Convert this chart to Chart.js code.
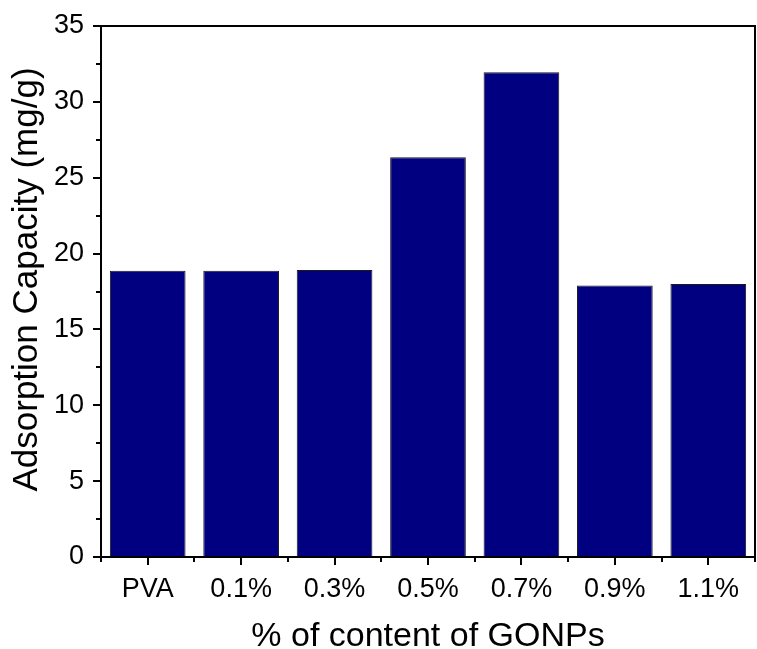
<!DOCTYPE html>
<html>
<head>
<meta charset="utf-8">
<script src="https://cdn.jsdelivr.net/npm/chart.js@4"></script>
<style>
  html, body { margin: 0; padding: 0; background: #fff; }
  #wrap { width: 757px; height: 649px; }
</style>
</head>
<body>
<div id="wrap"><canvas id="adsChart"></canvas></div>
<script>
// data
const categories = ['PVA', '0.1%', '0.3%', '0.5%', '0.7%', '0.9%', '1.1%'];
const capacity   = [18.87, 18.87, 18.92, 26.35, 31.95, 17.89, 18.0];
const yMin = 0, yMax = 35, yStep = 5;
const yMinorTicks = [2.5, 7.5, 12.5, 17.5, 22.5, 27.5, 32.5];
const yTitle = 'Adsorption Capacity (mg/g)';
const xTitle = '% of content of GONPs';

const FONT = '"Liberation Sans", Arial, sans-serif';

// top/right frame, minor ticks, and the y title (sits a bit above centre in the original)
const frameAndMinors = {
    id: 'frameAndMinors',
    afterDraw(chart) {
        const { ctx, chartArea: a, scales: { x, y } } = chart;
        ctx.save();
        ctx.strokeStyle = '#000';
        ctx.lineWidth = 2;
        ctx.beginPath();
        ctx.moveTo(a.left, a.top);
        ctx.lineTo(a.right, a.top);
        ctx.lineTo(a.right, a.bottom);
        ctx.stroke();

        ctx.beginPath();
        yMinorTicks.forEach(v => {
            const py = Math.round(y.getPixelForValue(v));
            ctx.moveTo(a.left, py);
            ctx.lineTo(a.left - 5, py);
        });
        // x minors sit on category boundaries
        const xs = [x.left];
        for (let i = 0; i < categories.length - 1; i++) {
            xs.push((x.getPixelForValue(i) + x.getPixelForValue(i + 1)) / 2);
        }
        xs.push(x.right);
        xs.forEach(px => {
            ctx.moveTo(Math.round(px), a.bottom);
            ctx.lineTo(Math.round(px), a.bottom + 5);
        });
        ctx.stroke();

        ctx.translate(27, (a.top + a.bottom) / 2 - 12);
        ctx.rotate(-Math.PI / 2);
        ctx.fillStyle = '#000';
        ctx.font = '35px ' + FONT;
        ctx.textAlign = 'center';
        ctx.textBaseline = 'middle';
        ctx.fillText(yTitle, 0, 0);
        ctx.restore();
    }
};

new Chart(document.getElementById('adsChart'), {
    type: 'bar',
    data: {
        labels: categories,
        datasets: [{
            data: capacity,
            backgroundColor: '#000080',
            borderColor: '#1a1a1a',
            borderWidth: 1,
            barPercentage: 0.81,
            categoryPercentage: 1
        }]
    },
    options: {
        responsive: true,
        maintainAspectRatio: false,
        animation: false,
        layout: { padding: { top: 26, right: 2, left: 0, bottom: 0 } },
        plugins: { legend: { display: false }, tooltip: { enabled: false } },
        scales: {
            x: {
                afterFit(s) { s.height = 92; },
                border: { display: true, color: '#000', width: 2 },
                grid: {
                    offset: false,
                    drawOnChartArea: false,
                    drawTicks: true,
                    tickLength: 8,
                    color: '#000',
                    lineWidth: 2
                },
                ticks: {
                    color: '#000',
                    padding: 8,
                    maxRotation: 0,
                    font: { family: FONT, size: 27 }
                },
                title: {
                    display: true,
                    text: xTitle,
                    color: '#000',
                    font: { family: FONT, size: 34, lineHeight: 0.75 },
                    padding: { top: 0, bottom: 0 }
                }
            },
            y: {
                min: yMin,
                max: yMax,
                afterFit(s) { s.width = 101; },
                border: { display: true, color: '#000', width: 2 },
                grid: {
                    drawOnChartArea: false,
                    drawTicks: true,
                    tickLength: 8,
                    color: '#000',
                    lineWidth: 2
                },
                ticks: {
                    stepSize: yStep,
                    color: '#000',
                    padding: 9,
                    font: { family: FONT, size: 27 }
                }
            }
        }
    },
    plugins: [frameAndMinors]
});
</script>
</body>
</html>
